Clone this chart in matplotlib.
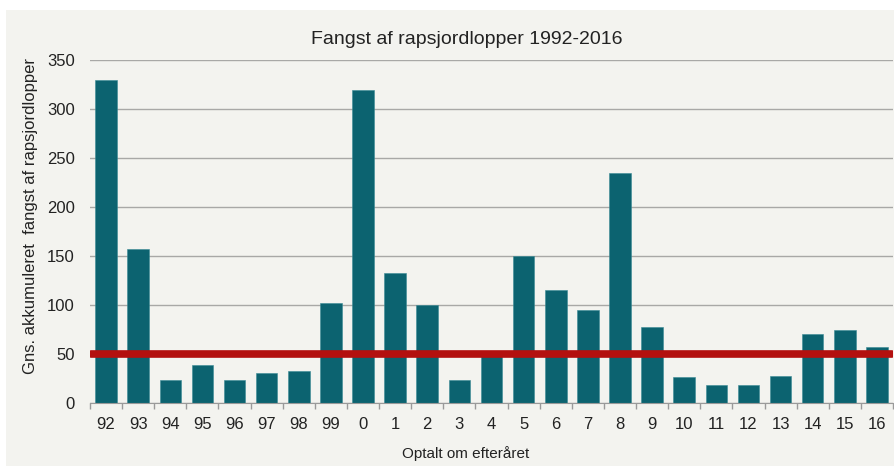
import matplotlib
matplotlib.use('Agg')
import matplotlib.pyplot as plt
from matplotlib.patches import Rectangle

# data
years = ['92', '93', '94', '95', '96', '97', '98', '99', '0', '1', '2', '3', '4',
         '5', '6', '7', '8', '9', '10', '11', '12', '13', '14', '15', '16']
catches = [330, 157, 23, 39, 23, 31, 33, 102, 319, 133, 100, 23, 48,
           150, 115, 95, 235, 78, 27, 18, 18, 28, 70, 75, 57]
threshold = 50

plt.rcParams['font.family'] = ['Liberation Sans', 'DejaVu Sans']
W, H = 895, 466

fig = plt.figure(figsize=(W / 100, H / 100), dpi=100)
fig.patch.set_facecolor('white')
# gray panel behind the chart
fig.patches.append(Rectangle((6 / W, 0), 1, 1 - 10 / H, transform=fig.transFigure,
                             facecolor='#f3f3ef', edgecolor='none', zorder=-10))

ax = fig.add_axes([90 / W, 1 - 403 / H, 803 / W, 343 / H])
ax.set_facecolor('none')

x = list(range(len(years)))
ax.bar(x, catches, width=0.67, color='#0c6370', edgecolor='#3a8a95', linewidth=0.4, zorder=2)
ax.plot([-0.48, len(years) - 0.52], [threshold, threshold], color='#b3100f',
        linewidth=5.5, solid_capstyle='round', zorder=3)

ax.set_xlim(-0.5, len(years) - 0.5)
ax.set_ylim(0, 350)
ax.set_yticks(range(0, 351, 50))
ax.yaxis.grid(True, color='#a8a8a6', linewidth=1.0, zorder=0)
ax.set_axisbelow(True)

ax.set_xticks(x)
ax.set_xticklabels(years)
ax.set_xticks([i - 0.5 for i in range(len(years) + 1)], minor=True)
ax.tick_params(axis='x', which='major', length=0, labelsize=12, pad=10, colors='#222222')
ax.tick_params(axis='x', which='minor', length=4, color='#9a9a9a', width=1)
ax.tick_params(axis='y', length=0, labelsize=12, pad=11, colors='#222222')

for s in ['top', 'right', 'left']:
    ax.spines[s].set_visible(False)
ax.spines['bottom'].set_color('#9a9a9a')

fig.text(467 / W, 1 - 40 / H, 'Fangst af rapsjordlopper 1992-2016', fontsize=14,
         color='#222222', ha='center', va='center')
fig.text(466 / W, 1 - 454 / H, 'Optalt om efteråret', fontsize=11,
         color='#222222', ha='center', va='center')
fig.text(31 / W, 1 - 216 / H, 'Gns. akkumuleret  fangst af rapsjordlopper', fontsize=12,
         color='#222222', ha='center', va='center', rotation=90)

fig.savefig('out.png', dpi=100, facecolor=fig.get_facecolor())
